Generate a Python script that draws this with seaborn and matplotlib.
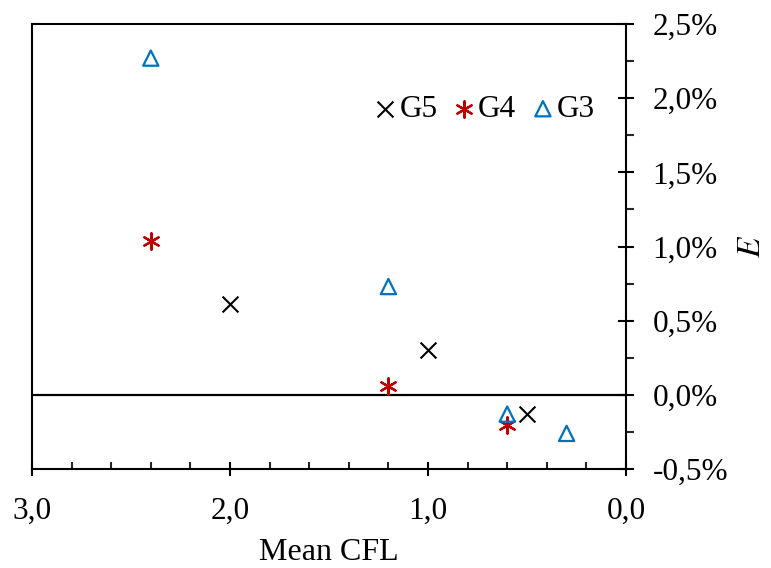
import matplotlib
matplotlib.use("Agg")
import matplotlib.pyplot as plt
from matplotlib.ticker import MultipleLocator, FuncFormatter
import seaborn as sns

# Data (E in %)
g5_cfl = [2.0, 1.0, 0.5]
g5_e = [0.61, 0.30, -0.13]
g4_cfl = [2.4, 1.2, 0.6]
g4_e = [1.04, 0.06, -0.20]
g3_cfl = [2.4, 1.2, 0.6, 0.3]
g3_e = [2.27, 0.73, -0.13, -0.26]

sns.set_theme(style="white")
plt.rcParams['font.family'] = ['Liberation Serif', 'DejaVu Serif']
plt.rcParams['mathtext.fontset'] = 'stix'
plt.rcParams['text.color'] = 'black'

fig = plt.figure(figsize=(7.71, 5.68), dpi=100)
ax = fig.add_axes([32/771, 1-469/568, (626-32)/771, (469-24)/568])

ax.axhline(0, color='black', lw=1.6, zorder=1)

sns.scatterplot(x=g5_cfl, y=g5_e, ax=ax, marker='x', color='black', s=130,
                linewidth=1.5, label='G5', zorder=3)
sns.scatterplot(x=g4_cfl, y=g4_e, ax=ax, marker=(6, 2, 0), color='#C00000', s=140,
                linewidth=1.6, label='G4', zorder=3)
sns.scatterplot(x=g3_cfl, y=g3_e, ax=ax, marker='^', facecolor='none',
                edgecolor='#0070C0', s=120, linewidth=1.6, label='G3', zorder=3)

ax.set_xlim(3.0, 0.0)
ax.set_ylim(-0.5, 2.5)

for sp in ax.spines.values():
    sp.set_visible(True)
    sp.set_color('black')
    sp.set_linewidth(1.5)

ax.xaxis.set_major_locator(MultipleLocator(1.0))
ax.xaxis.set_minor_locator(MultipleLocator(0.2))
ax.yaxis.set_major_locator(MultipleLocator(0.5))
ax.yaxis.set_minor_locator(MultipleLocator(0.25))
ax.xaxis.set_major_formatter(FuncFormatter(lambda v, p: f"{v:.1f}".replace('.', ',')))
ax.yaxis.set_major_formatter(FuncFormatter(lambda v, p: f"{v:.1f}%".replace('.', ',').replace('-0,0', '0,0')))

ax.yaxis.tick_right()
ax.yaxis.set_label_position('right')
ax.tick_params(axis='x', which='major', direction='inout', length=10, width=1.5,
               labelsize=22.5, pad=15, bottom=True, top=False, colors='black')
ax.tick_params(axis='x', which='minor', direction='in', length=5, width=1.5,
               bottom=True, top=False)
ax.tick_params(axis='y', which='major', direction='inout', length=12, width=1.5,
               labelsize=22.5, pad=13, right=True, left=False, colors='black')
ax.tick_params(axis='y', which='minor', direction='out', length=6, width=1.5,
               right=True, left=False)

ax.set_xlabel('Mean CFL', fontsize=23, labelpad=9, color='black')
ax.set_ylabel('$E$', fontsize=24, labelpad=6, color='black')
ax.grid(False)

leg = ax.legend(loc='center right', bbox_to_anchor=(0.948, 0.808), ncol=3, frameon=False,
                fontsize=22.5, handletextpad=0.15, columnspacing=0.55, borderaxespad=0.0,
                handlelength=0.6, borderpad=0.0)
for t in leg.get_texts():
    t.set_color('black')

fig.savefig('out.png', dpi=100)
